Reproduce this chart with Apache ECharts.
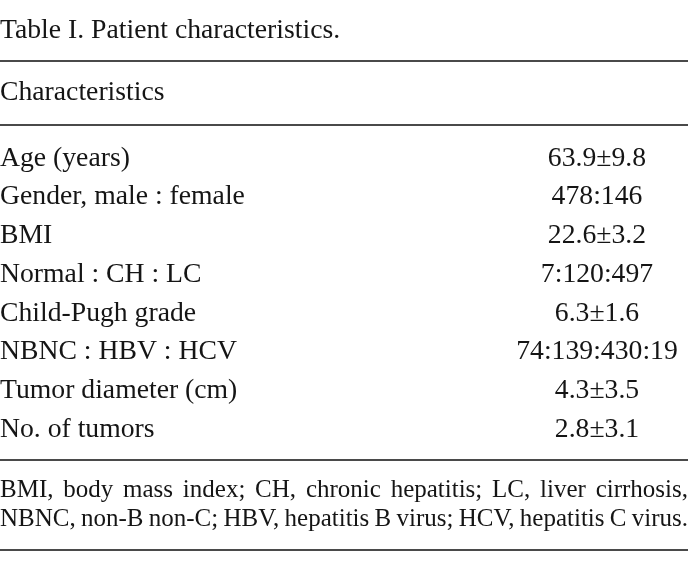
<!DOCTYPE html>
<html>
<head>
<meta charset="utf-8">
<script src="https://cdn.jsdelivr.net/npm/echarts@6/dist/echarts.min.js"></script>
<style>
  html, body { margin: 0; padding: 0; background: #fff; }
  #chart { width: 688px; height: 573px; }
</style>
</head>
<body>
<div id="chart"></div>
<script>
// table content
const titleText = 'Table I. Patient characteristics.'
const headerText = 'Characteristics'
const rowLabels = [
  'Age (years)',
  'Gender, male : female',
  'BMI',
  'Normal : CH : LC',
  'Child-Pugh grade',
  'NBNC : HBV : HCV',
  'Tumor diameter (cm)',
  'No. of tumors'
]
const rowValues = [
  '63.9±9.8',
  '478:146',
  '22.6±3.2',
  '7:120:497',
  '6.3±1.6',
  '74:139:430:19',
  '4.3±3.5',
  '2.8±3.1'
]
const footnotes = [
  'BMI, body mass index; CH, chronic hepatitis; LC, liver cirrhosis,',
  'NBNC, non-B non-C; HBV, hepatitis B virus; HCV, hepatitis C virus.'
]

const W = 688
const FONT = '"Liberation Serif", "Times New Roman", serif'
const SIZE = 27.7
const INK = '#151515'
const RULE = '#4a4a4a'

// spread the words of a footnote line across the full width
const ctx = document.createElement('canvas').getContext('2d')
function justifyLine(line, y, size) {
  ctx.font = size + 'px ' + FONT
  const words = line.split(' ')
  const widths = words.map(w => ctx.measureText(w).width)
  const total = widths.reduce((a, b) => a + b, 0)
  let gap = (W - total) / (words.length - 1)
  let scale = 1
  if (gap < 4) {
    gap = 4
    scale = W / (total + gap * (words.length - 1))
  }
  let x = 0
  return words.map((w, i) => {
    const el = {
      type: 'text',
      x: x * scale,
      y: y,
      scaleX: scale,
      style: { text: w, font: size + 'px ' + FONT, fill: INK, verticalAlign: 'middle' }
    }
    x += widths[i] + gap
    return el
  })
}

function rule(y) {
  return {
    type: 'line',
    shape: { x1: 0, y1: y, x2: W, y2: y },
    style: { stroke: RULE, lineWidth: 2 }
  }
}

const chart = echarts.init(document.getElementById('chart'))

const option = {
  backgroundColor: '#fff',
  animation: false,
  grid: { left: 0, right: 91, top: 139, height: 310, outerBoundsMode: 'none', containLabel: false },
  xAxis: { type: 'value', show: false, min: 0, max: 1 },
  yAxis: [
    {
      type: 'category',
      inverse: true,
      data: rowLabels,
      axisLine: { show: false },
      axisTick: { show: false },
      splitLine: { show: false },
      axisLabel: {
        interval: 0,
        align: 'left',
        margin: 0,
        color: INK,
        fontFamily: FONT,
        fontSize: SIZE
      }
    },
    {
      type: 'category',
      inverse: true,
      position: 'right',
      data: rowValues,
      axisLine: { show: false },
      axisTick: { show: false },
      splitLine: { show: false },
      axisLabel: {
        interval: 0,
        align: 'center',
        margin: 0,
        color: INK,
        fontFamily: FONT,
        fontSize: SIZE
      }
    }
  ],
  series: [
    { type: 'scatter', data: [], silent: true }
  ],
  graphic: [
    {
      type: 'text', x: 0, y: 31,
      style: { text: titleText, font: SIZE + 'px ' + FONT, fill: INK, verticalAlign: 'middle' }
    },
    rule(61),
    {
      type: 'text', x: 0, y: 93,
      style: { text: headerText, font: SIZE + 'px ' + FONT, fill: INK, verticalAlign: 'middle' }
    },
    rule(125),
    rule(460),
    ...justifyLine(footnotes[0], 490, 25),
    ...justifyLine(footnotes[1], 519, 25),
    rule(550)
  ]
}

chart.setOption(option)
</script>
</body>
</html>
